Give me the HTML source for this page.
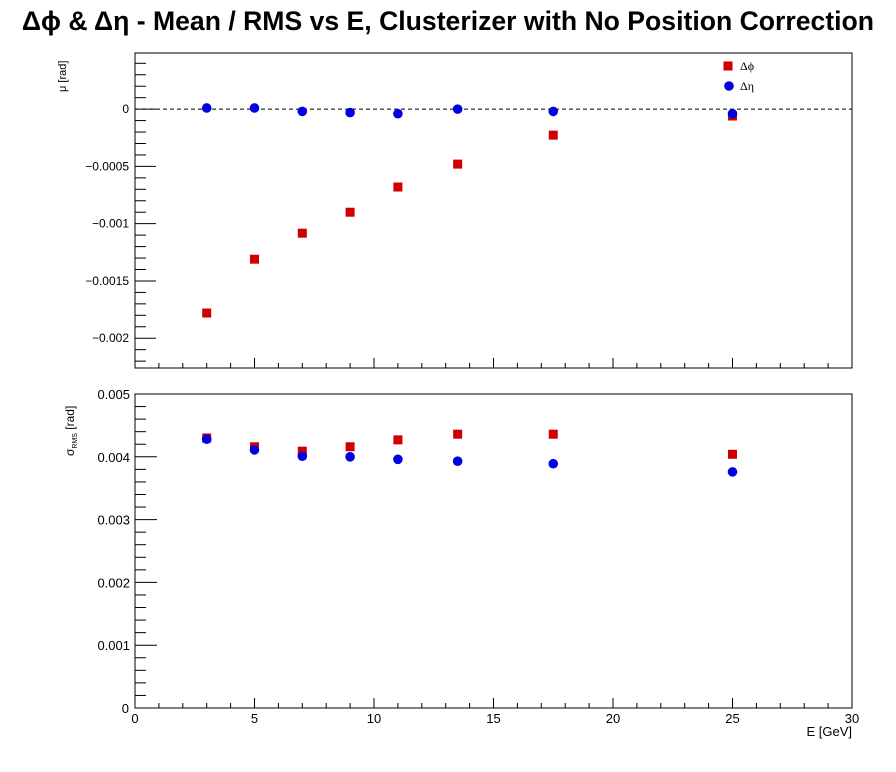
<!DOCTYPE html>
<html><head><meta charset="utf-8"><style>
body{margin:0;background:#fff;}
svg{display:block;font-family:"Liberation Sans",sans-serif;}
</style></head><body>
<svg id="c" width="896" height="772">
<text x="448" y="30" text-anchor="middle" font-size="26.6" font-weight="bold">Δϕ &amp; Δη - Mean / RMS vs E, Clusterizer with No Position Correction</text>
</svg>
<script>
const energies=[3,5,7,9,11,13.5,17.5,25];
const meanPhi=[-0.00178,-0.00131,-0.001083,-0.0009,-0.00068,-0.00048,-0.000227,-0.00006];
const meanEta=[0.00001,0.00001,-0.00002,-0.00003,-0.00004,0.0,-0.00002,-0.00004];
const rmsPhi=[0.0043,0.00416,0.00409,0.00416,0.00427,0.00436,0.00436,0.00404];
const rmsEta=[0.00428,0.00411,0.00401,0.004,0.00396,0.00393,0.00389,0.00376];
const xTicks=[0,5,10,15,20,25,30];
const meanTicks=[0,-0.0005,-0.001,-0.0015,-0.002];
const meanTickLabels=["0","\u22120.0005","\u22120.001","\u22120.0015","\u22120.002"];
const rmsTicks=[0,0.001,0.002,0.003,0.004,0.005];
const rmsTickLabels=["0","0.001","0.002","0.003","0.004","0.005"];

const svg=document.getElementById('c');
const NS='http://www.w3.org/2000/svg';
function mk(tag,attrs,parent){const e=document.createElementNS(NS,tag);for(const k in attrs)e.setAttribute(k,attrs[k]);(parent||svg).appendChild(e);return e;}
const X0=135,X1=852;
const xs=v=>X0+(v-0)/(30-0)*(X1-X0);
const topP={y0:53,y1:368,min:-0.00226,max:0.00049};
const botP={y0:394,y1:708,min:0,max:0.005};
const ysT=v=>topP.y1-(v-topP.min)/(topP.max-topP.min)*(topP.y1-topP.y0);
const ysB=v=>botP.y1-(v-botP.min)/(botP.max-botP.min)*(botP.y1-botP.y0);

function frame(p,name){
  const r=mk('rect',{x:X0,y:p.y0,width:X1-X0,height:p.y1-p.y0,fill:'none',stroke:'#000','stroke-width':1});
  
  
}
frame(topP,'mean-plot-frame');frame(botP,'rms-plot-frame');

[topP,botP].forEach(p=>{
  for(let v=0;v<=30;v++){
    const maj=v%5===0;
    const l=mk('line',{x1:xs(v),x2:xs(v),y1:p.y1,y2:p.y1-(maj?10:5),stroke:'#000'});
    
    
  }
});
xTicks.forEach(v=>{
  const t=mk('text',{x:xs(v),y:723,'text-anchor':'middle','font-size':13});
  t.textContent=String(v);
  
  
});
const xt=mk('text',{x:852,y:736,'text-anchor':'end','font-size':13});
xt.textContent='E  [GeV]';



for(let i=-22;i<=4;i++){
  const v=i*0.0001;const maj=i%5===0;
  const l=mk('line',{x1:X0,x2:X0+(maj?21:11),y1:ysT(v),y2:ysT(v),stroke:'#000'});
  
  
}
meanTicks.forEach((v,i)=>{
  const t=mk('text',{x:129,y:ysT(v)+4,'text-anchor':'end','font-size':12});
  t.textContent=meanTickLabels[i];
  
  
});
const yt1=mk('text',{x:0,y:0,'font-size':11,transform:'translate(66,92) rotate(-90)'});
yt1.textContent='\u03bc  [rad]';



for(let i=0;i<=25;i++){
  const v=i*0.0002;const maj=i%5===0;
  const l=mk('line',{x1:X0,x2:X0+(maj?22:11),y1:ysB(v),y2:ysB(v),stroke:'#000'});
  
  
}
rmsTicks.forEach((v,i)=>{
  const t=mk('text',{x:i===0?129:130,y:ysB(v)+5,'text-anchor':'end','font-size':13});
  t.textContent=rmsTickLabels[i];
  
  
});
const yt2=mk('text',{x:0,y:0,'font-size':12,transform:'translate(74,456) rotate(-90)'});
yt2.innerHTML='\u03c3<tspan font-size="7" dy="3">RMS</tspan><tspan dy="-3">   [rad]</tspan>';



const zl=mk('line',{x1:X0,x2:X1,y1:ysT(0),y2:ysT(0),stroke:'#000','stroke-dasharray':'4,3'});



function sq(x,y,name){const r=mk('rect',{x:x-4.5,y:y-4.5,width:9,height:9,fill:'#d00000'});}
function dot(x,y,name){const c=mk('circle',{cx:x,cy:y,r:4.8,fill:'#0000e0'});}
energies.forEach((e,i)=>{
  sq(xs(e),ysT(meanPhi[i]),'mean-dphi-point');
  dot(xs(e),ysT(meanEta[i]),'mean-deta-point');
  sq(xs(e),ysB(rmsPhi[i]),'rms-dphi-point');
  dot(xs(e),ysB(rmsEta[i]),'rms-deta-point');
});

sq(728,66,'legend-dphi-marker');
dot(729,86,'legend-deta-marker');
const l1=mk('text',{x:740,y:70,'font-size':12,'font-family':'Liberation Serif,serif'});
l1.textContent='\u0394\u03d5';


const l2=mk('text',{x:740,y:90,'font-size':12,'font-family':'Liberation Serif,serif'});
l2.textContent='\u0394\u03b7';


</script>
</body></html>
